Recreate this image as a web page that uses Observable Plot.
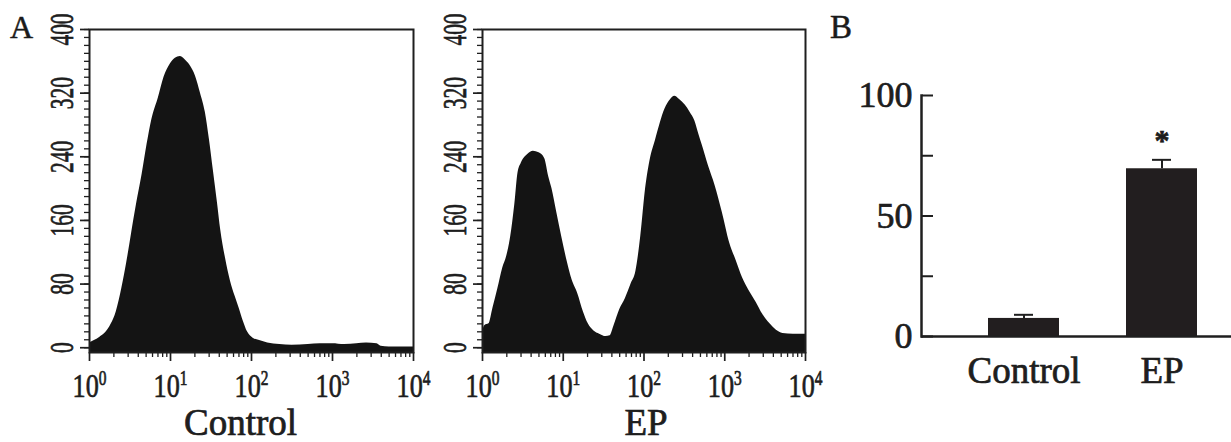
<!DOCTYPE html>
<html>
<head>
<meta charset="utf-8">
<script src="https://cdn.jsdelivr.net/npm/d3@7"></script>
<script src="https://cdn.jsdelivr.net/npm/@observablehq/plot@0.6"></script>
<style>
  body { margin: 0; background: #fff; }
  #wrap { position: relative; width: 1231px; height: 442px; overflow: hidden; background: #fff;
          font-family: "Liberation Serif", "Times New Roman", serif; color: #1a1a1a; }
  .panel { position: absolute; top: 0; }
  .panel svg { overflow: visible; }
  .panel svg, .panel svg text, .panel svg tspan { font-family: "Liberation Serif", "Times New Roman", serif !important; }
  .panel svg text { stroke: #1a1a1a; stroke-width: 0.7px; }
  .plabel { position: absolute; line-height: 1; -webkit-text-stroke: 0.5px #1a1a1a; }
</style>
</head>
<body>
<div id="wrap">
  <div class="plabel" style="left:10px; top:11px; font-size:32px;">A</div>
  <div class="plabel" style="left:830px; top:11px; font-size:33px;">B</div>
  <div class="panel" id="p1" style="left:0px;"></div>
  <div class="panel" id="p2" style="left:393px;"></div>
  <div class="panel" id="p3" style="left:830px;"></div>
</div>
<script>
// ---------- data ----------
// Panel A, Control histogram: log10 fluorescence intensity and cell counts
const controlLogFL = [0, 0.06, 0.125, 0.2, 0.27, 0.33, 0.4, 0.46, 0.52, 0.58, 0.65, 0.71, 0.77, 0.85, 0.92,
  1.0, 1.06, 1.12, 1.18, 1.24, 1.31, 1.37, 1.43, 1.48, 1.53, 1.58, 1.62, 1.68, 1.74, 1.8, 1.85, 1.9, 1.95,
  2.02, 2.1, 2.2, 2.35, 2.5, 2.7, 2.85, 3.0, 3.15, 3.3, 3.42, 3.55, 3.6, 3.7, 4.0];
const controlCount = [6, 9, 13, 19, 30, 45, 75, 107, 144, 180, 218, 255, 287, 314, 340,
  357, 364, 366, 362, 355, 341, 320, 296, 262, 222, 182, 148, 112, 84, 64, 49, 33, 20,
  12, 9, 6, 4, 3, 4, 5, 5, 4, 5, 6, 5, 2, 1, 1];

// Panel A, EP histogram
const epLogFL = [0, 0.03, 0.08, 0.13, 0.19, 0.25, 0.3, 0.35, 0.4, 0.44, 0.48, 0.56, 0.63, 0.7, 0.77, 0.82,
  0.86, 0.92, 0.98, 1.05, 1.11, 1.18, 1.25, 1.31, 1.38, 1.45, 1.53, 1.58, 1.63, 1.7, 1.77, 1.84, 1.9, 1.96,
  2.02, 2.08, 2.14, 2.2, 2.26, 2.33, 2.38, 2.44, 2.51, 2.57, 2.63, 2.68, 2.72, 2.8, 2.88, 2.97, 3.06, 3.14,
  3.22, 3.3, 3.39, 3.47, 3.56, 3.64, 3.72, 3.85, 4.0];
const epCount = [20, 28, 30, 50, 74, 100, 115, 140, 180, 220, 232, 243, 247, 245, 238, 215,
  200, 170, 140, 108, 85, 68, 45, 30, 21, 17, 14, 15, 28, 48, 62, 80, 96, 140,
  200, 238, 260, 282, 300, 312, 316, 312, 305, 296, 285, 268, 255, 228, 204, 170, 132, 110,
  88, 72, 57, 42, 30, 22, 18, 17, 17];

// Axis ticks of the histograms
const histYMajor = [0, 80, 160, 240, 320, 400];
const histYMinor = d3.range(0, 401, 10);
const histXMajor = [1, 10, 100, 1000, 10000];
const histXExponent = ["0", "1", "2", "3", "4"];
const histXMinor = [1, 10, 100, 1000].flatMap(d => [2, 3, 4, 5, 6, 7, 8, 9].map(k => k * d));

// Panel B, bar chart
const groups = ["Control", "EP"];
const meanPct = [7.5, 69.6];
const semPct = [1.5, 3.7];
const sigMark = ["", "*"];
const barYMajor = [0, 50, 100];
const barYTicks = [0, 25, 50, 75, 100];

// ---------- style ----------
const SERIF = '"Liberation Serif", "Times New Roman", serif';
const INK = "#1f1f1f";
const FILL = "#141414";
const BAR = "#221e1f";
const Y_FLOOR = -6;

function textsOf(svg, tag) {
  return svg.querySelectorAll(`g[aria-description="${tag}"] text`);
}

function condense(svg, tag, sx) {
  textsOf(svg, tag).forEach(t => {
    let tr = t.getAttribute("transform");
    if (!tr) {
      const x = t.getAttribute("x") || 0, y = t.getAttribute("y") || 0;
      t.removeAttribute("x"); t.removeAttribute("y");
      tr = `translate(${x},${y})`;
    }
    t.setAttribute("transform", tr + ` scale(${sx},1)`);
  });
}

function superscripts(svg, tag) {
  textsOf(svg, tag).forEach(t => {
    const [base, exp] = t.textContent.split("^");
    if (exp === undefined) return;
    t.textContent = base;
    const ts = document.createElementNS("http://www.w3.org/2000/svg", "tspan");
    ts.setAttribute("dy", "-12");
    ts.setAttribute("font-size", "20");
    ts.textContent = exp;
    t.appendChild(ts);
  });
}

function histPanel(logs, counts, title, titleDx, marginRight) {
  const data = logs.map((l, i) => ({fl: Math.pow(10, l), count: counts[i]}));
  const xt = histXMajor.map((v, i) => ({v, e: histXExponent[i]}));
  const svg = Plot.plot({
    width: 420, height: 442,
    marginLeft: 89, marginRight, marginTop: 29, marginBottom: 90,
    style: {fontFamily: SERIF, background: "transparent", overflow: "visible", color: INK},
    x: {type: "log", domain: [1, 1e4], label: null},
    y: {domain: [Y_FLOOR, 400], label: null},
    marks: [
      Plot.areaY(data, {x: "fl", y1: Y_FLOOR, y2: "count", fill: FILL, curve: "monotone-x"}),
      Plot.frame({stroke: INK, strokeWidth: 2}),
      Plot.axisY(histYMinor, {tickSize: 5, text: null, strokeWidth: 1.3, stroke: INK}),
      Plot.axisY(histYMajor, {tickSize: 9, text: null, strokeWidth: 1.7, stroke: INK}),
      Plot.axisX(histXMinor, {tickSize: 5, text: null, strokeWidth: 1.3, stroke: INK}),
      Plot.axisX(histXMajor, {tickSize: 9, text: null, strokeWidth: 1.7, stroke: INK}),
      Plot.text(histYMajor, {y: d => d, frameAnchor: "left", dx: -27, rotate: -90,
        text: d => String(d), fontSize: 33, textAnchor: "middle", lineAnchor: "middle", fill: INK,
        ariaDescription: "ylab"}),
      Plot.text(xt, {x: "v", frameAnchor: "bottom", dy: 44, lineAnchor: "bottom", textAnchor: "middle",
        text: d => "10^" + d.e, fontSize: 34, fill: INK, ariaDescription: "xlab"}),
      Plot.text([title], {frameAnchor: "bottom", dx: titleDx, dy: 82, lineAnchor: "bottom",
        text: d => d, fontSize: 37, fill: INK})
    ]
  });
  superscripts(svg, "xlab");
  condense(svg, "ylab", 0.65);
  condense(svg, "xlab", 0.77);
  return svg;
}

document.getElementById("p1").appendChild(histPanel(controlLogFL, controlCount, "Control", -11, 7));
document.getElementById("p2").appendChild(histPanel(epLogFL, epCount, "EP", 2, 8));

// Panel B
const bars = groups.map((g, i) => ({group: g, mean: meanPct[i], sem: semPct[i], sig: sigMark[i]}));
const barSvg = Plot.plot({
  width: 401, height: 442,
  marginLeft: 91, marginRight: 0, marginTop: 95, marginBottom: 106,
  style: {fontFamily: SERIF, background: "transparent", overflow: "visible", color: INK},
  x: {type: "band", domain: groups, range: [89, 436], paddingInner: 0.486, paddingOuter: 0.5, label: null},
  y: {domain: [0, 100], label: null},
  marks: [
    Plot.barY(bars, {x: "group", y: "mean", fill: BAR}),
    Plot.ruleX(bars, {x: "group", y1: "mean", y2: d => d.mean + d.sem, stroke: INK, strokeWidth: 2}),
    Plot.tickY(bars, {x: "group", y: d => d.mean + d.sem, insetLeft: 26, insetRight: 26, stroke: INK, strokeWidth: 2}),
    Plot.text(bars, {x: "group", y: d => d.mean + d.sem, text: "sig", dy: -19, fontSize: 30,
      fontWeight: "bold", lineAnchor: "middle", fill: INK}),
    Plot.frame({anchor: "left", stroke: INK, strokeWidth: 2.5}),
    Plot.ruleY([0], {stroke: INK, strokeWidth: 2.5}),
    Plot.axisY(barYTicks, {anchor: "right", frameAnchor: "left", tickSize: 11, text: null, stroke: INK, strokeWidth: 2}),
    Plot.axisY(barYMajor, {anchor: "left", tickSize: 0, tickPadding: 9, fontSize: 36, fill: INK}),
    Plot.axisX({tickSize: 0, tickPadding: 20, fontSize: 37, fill: INK})
  ]
});
document.getElementById("p3").appendChild(barSvg);
</script>
</body>
</html>
